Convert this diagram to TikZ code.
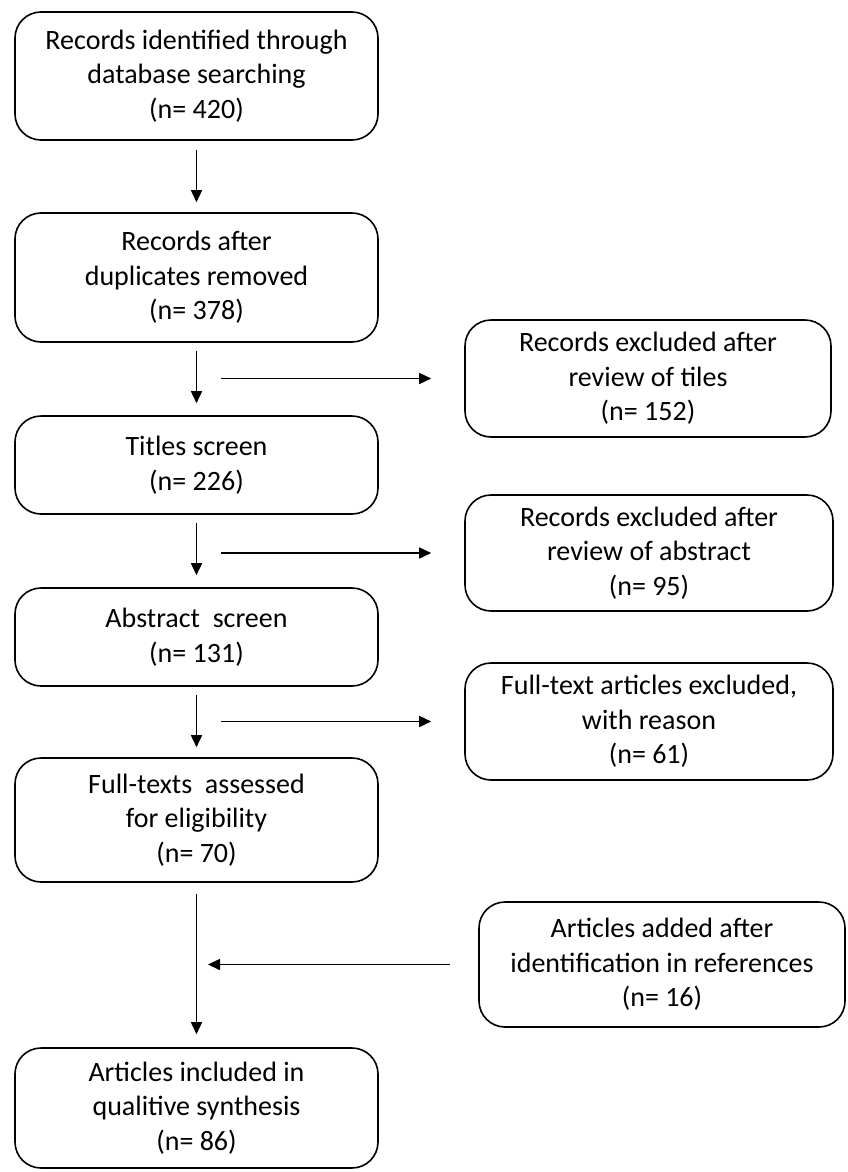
\documentclass[tikz,border=0pt]{standalone}
\usepackage{fontspec}
\setmainfont{Carlito}
\usepackage{tikz}
\usetikzlibrary{arrows.meta,positioning}
\tikzstyle{box} = [draw=black,line width=1.6pt,rounded corners=26pt,align=center,
    font=\fontsize{28}{34.5}\selectfont,minimum width=363pt]
\tikzstyle{arrow} = [line width=1.6pt,-{Triangle[length=12pt,width=11pt]},draw=black]

\begin{document}
\begin{tikzpicture}[x=1pt,y=-1pt]
    \useasboundingbox (0,0) rectangle (847,1172);
    % main column
    \node[box,minimum height=128pt](rec) at (196.5,76){Records identified through\\database searching\\(n= 420)};
    \node[box,minimum height=129pt](dup) at (196.5,277.5){Records after\\duplicates removed\\(n= 378)};
    \node[box,minimum height=98pt](tit) at (196.5,465){Titles screen\\(n= 226)};
    \node[box,minimum height=98pt](abs) at (196.5,637){Abstract~ screen\\(n= 131)};
    \node[box,minimum height=124pt](full) at (196.5,820){Full-texts~ assessed\\for eligibility\\(n= 70)};
    \node[box,minimum height=120pt](incl) at (196.5,1108){Articles included in\\qualitive synthesis\\(n= 86)};
    % side boxes
    \node[box,minimum width=366pt,minimum height=117pt](exc1) at (648,378.5){Records excluded after\\review of tiles\\(n= 152)};
    \node[box,minimum width=368pt,minimum height=116pt](exc2) at (649,553){Records excluded after\\review of abstract\\(n= 95)};
    \node[box,minimum width=368pt,minimum height=117pt](exc3) at (649,721.5){Full-text articles excluded,\\with reason\\(n= 61)};
    \node[box,minimum width=366pt,minimum height=125pt](add) at (662,964.5){Articles added after\\identification in references\\(n= 16)};
    \coordinate (s1) at (221,378.5);
    \coordinate (s2) at (221,553);
    \coordinate (s3) at (221,721.5);
    \coordinate (s4) at (208,964.5);
    \path[every edge/.style={arrow}]
    ([yshift=-9pt]rec.south) edge ([yshift=10pt]dup.north)
    ([yshift=-8pt]dup.south) edge ([yshift=12pt]tit.north)
    ([yshift=-8pt]tit.south) edge ([yshift=12pt]abs.north)
    ([yshift=-8pt]abs.south) edge ([yshift=10pt]full.north)
    ([yshift=-11pt]full.south) edge ([yshift=13pt]incl.north)
    (s1) edge ([xshift=-33pt]exc1.west)
    (s2) edge ([xshift=-33pt]exc2.west)
    (s3) edge ([xshift=-33pt]exc3.west)
    ([xshift=-28pt]add.west) edge (s4)
    ;
\end{tikzpicture}
\end{document}
